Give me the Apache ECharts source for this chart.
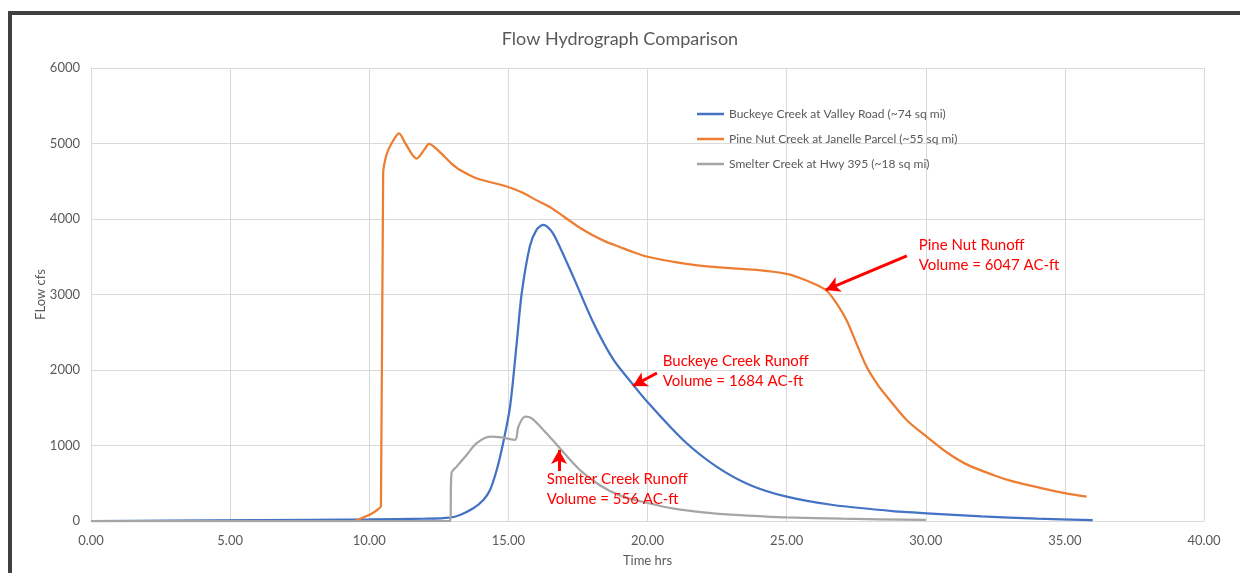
<!DOCTYPE html>
<html>
<head>
<meta charset="utf-8">
<script src="https://cdn.jsdelivr.net/npm/echarts@6/dist/echarts.min.js"></script>
<style>
  html, body { margin: 0; padding: 0; background: #ffffff; overflow: hidden; }
  #frame { position: absolute; left: 8px; top: 11px; width: 1300px; height: 700px;
           border-left: 4px solid #404040; border-top: 4px solid #404040; }
  #chart { position: absolute; left: 0; top: 0; width: 1240px; height: 573px; }
</style>
</head>
<body>
<div id="frame"></div>
<div id="chart"></div>
<script>
// ---- Data ----
const seriesNames = [
  'Buckeye Creek at Valley Road (~74 sq mi)',
  'Pine Nut Creek at Janelle Parcel (~55 sq mi)',
  'Smelter Creek at Hwy 395 (~18 sq mi)'
];

const buckeyeTime = [0, 2.8, 6, 10, 12, 12.9, 13.26, 13.74, 14.1, 14.34, 14.58, 14.81, 15.06, 15.3, 15.48, 15.77, 16.0, 16.25, 16.5, 16.73, 17.33, 18.05, 18.77, 19.49, 20.0, 21.28, 22.48, 23.68, 25.0, 26.67, 29.07, 30.03, 32.0, 34.0, 36.0];
const buckeyeFlow = [0, 5, 12, 20, 30, 45, 80, 168, 278, 410, 675, 1030, 1515, 2355, 3017, 3635, 3850, 3922, 3860, 3723, 3237, 2630, 2140, 1802, 1575, 1073, 720, 477, 322, 212, 123, 102, 62, 32, 10];

const pineTime = [0, 9.45, 9.8, 10.05, 10.3, 10.42, 10.5, 10.62, 10.8, 11.07, 11.3, 11.7, 12.0, 12.14, 12.5, 13.0, 13.26, 13.85, 14.94, 15.5, 16.0, 16.49, 17.0, 17.5, 18.0, 18.5, 19.0, 19.5, 20.0, 21.0, 22.24, 23.92, 25.0, 25.5, 26.0, 26.44, 26.8, 27.15, 27.5, 27.87, 28.3, 28.71, 29.31, 30.03, 30.75, 31.47, 32.42, 33.13, 34.1, 35.0, 35.78];
const pineFlow = [0, 0, 50, 90, 150, 200, 4600, 4850, 5000, 5135, 5000, 4800, 4930, 4995, 4900, 4720, 4650, 4540, 4430, 4350, 4250, 4160, 4030, 3900, 3790, 3700, 3630, 3560, 3500, 3430, 3370, 3325, 3273, 3215, 3140, 3050, 2880, 2663, 2360, 2045, 1790, 1600, 1338, 1117, 910, 750, 610, 525, 440, 370, 322];

const smelterTime = [0, 12.9, 12.96, 13.14, 13.5, 13.86, 14.34, 14.81, 15.24, 15.36, 15.6, 15.84, 16.37, 16.85, 17.57, 18.3, 19.0, 20.0, 21.0, 22.0, 23.0, 24.0, 25.0, 27.0, 30.0];
const smelterFlow = [0, 0, 640, 720, 875, 1030, 1117, 1104, 1073, 1250, 1382, 1360, 1162, 963, 676, 470, 340, 238, 160, 115, 85, 65, 48, 30, 15];

const xTicks = [0, 5, 10, 15, 20, 25, 30, 35, 40];
const yTicks = [0, 1000, 2000, 3000, 4000, 5000, 6000];

// Annotations: [text, label anchor (time, flow), arrow tail, arrow tip]
const annTexts = ['Pine Nut Runoff\nVolume = 6047 AC-ft', 'Buckeye Creek Runoff\nVolume = 1684 AC-ft', 'Smelter Creek Runoff\nVolume = 556 AC-ft'];
const annLabelAt = [[29.75, 3525], [20.55, 1990], [16.38, 420]];
const annTail = [[29.32, 3511], [20.34, 1961], [16.82, 662]];
const annTip = [[26.41, 3061], [19.48, 1789], [16.82, 941]];

// ---- Build ----
const zip = (a, b) => a.map((v, i) => [v, b[i]]);
const colors = ['#4472C4', '#ED7D31', '#A5A5A5'];
const font = 'Lato, "Open Sans", sans-serif';
const txt = '#595959';

const chart = echarts.init(document.getElementById('chart'), null, { renderer: 'canvas' });

const annSeries = {
  type: 'line', data: [], silent: true,
  markLine: {
    silent: true, symbol: ['none', 'arrow'], symbolSize: [12, 14],
    lineStyle: { color: '#FF0000', width: 3, type: 'solid' },
    label: { show: false },
    data: annTail.map((t, i) => [{ coord: t }, { coord: annTip[i] }])
  },
  markPoint: {
    silent: true, symbol: 'circle', symbolSize: 0,
    label: { show: true, position: 'right', distance: 0, color: '#FF0000', fontSize: 15, lineHeight: 20, fontFamily: font },
    data: annLabelAt.map((c, i) => ({ coord: c, label: { formatter: annTexts[i] } }))
  }
};

const lineSeries = (i, t, f) => ({
  name: seriesNames[i], type: 'line', data: zip(t, f), smooth: 0.3,
  symbol: 'none', lineStyle: { color: colors[i], width: 2.25 }, itemStyle: { color: colors[i] }
});

chart.setOption({
  backgroundColor: 'transparent',
  animation: false,
  title: {
    text: 'Flow Hydrograph Comparison', left: 'center', top: 25,
    textStyle: { color: txt, fontSize: 18, fontWeight: 'normal', fontFamily: font }
  },
  legend: {
    orient: 'vertical', left: 692, top: 103, itemGap: 13,
    icon: 'rect', itemWidth: 27, itemHeight: 2.5,
    textStyle: { color: txt, fontSize: 12, fontFamily: font },
    data: seriesNames
  },
  grid: { left: 91, right: 36, top: 68, bottom: 52, containLabel: false },
  xAxis: {
    type: 'value', min: 0, max: 40, interval: 5,
    name: 'Time hrs', nameLocation: 'middle', nameGap: 33, nameMoveOverlap: false,
    nameTextStyle: { color: txt, fontSize: 13, fontFamily: font },
    axisLine: { show: true, lineStyle: { color: '#D9D9D9', width: 1 } },
    axisTick: { show: false },
    axisLabel: { color: txt, fontSize: 13, margin: 13, fontFamily: font,
      formatter: v => xTicks.includes(v) ? v.toFixed(2) : '' },
    splitLine: { show: true, lineStyle: { color: '#D9D9D9', width: 1 } }
  },
  yAxis: {
    type: 'value', min: 0, max: 6000, interval: 1000,
    name: 'FLow cfs', nameLocation: 'middle', nameGap: 44, nameMoveOverlap: false,
    nameTextStyle: { color: txt, fontSize: 13, fontFamily: font },
    axisLine: { show: true, lineStyle: { color: '#D9D9D9', width: 1 } },
    axisTick: { show: false },
    axisLabel: { color: txt, fontSize: 13, margin: 11, fontFamily: font,
      formatter: v => yTicks.includes(v) ? String(v) : '' },
    splitLine: { show: true, lineStyle: { color: '#D9D9D9', width: 1 } }
  },
  series: [
    lineSeries(0, buckeyeTime, buckeyeFlow),
    lineSeries(1, pineTime, pineFlow),
    lineSeries(2, smelterTime, smelterFlow),
    annSeries
  ]
});
</script>
</body>
</html>
